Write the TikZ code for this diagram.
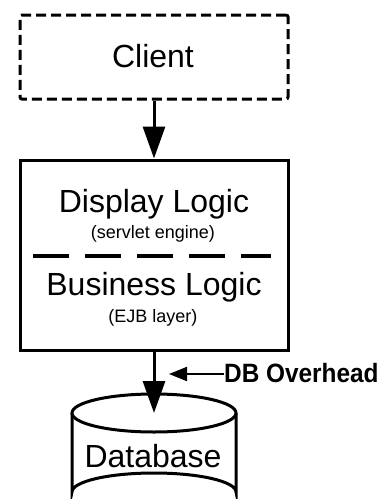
\documentclass[tikz,border=0pt]{standalone}
\usepackage{fontspec}
\setmainfont{Liberation Sans}
\usetikzlibrary{arrows.meta}
\begin{document}
\begin{tikzpicture}[x=1pt,y=-1pt,
  boxline/.style={line width=3pt},
  bigtxt/.style={anchor=base,inner sep=0pt,font=\fontsize{32}{36}\selectfont},
  smalltxt/.style={anchor=base,inner sep=0pt,font=\fontsize{18}{20}\selectfont},
  flow/.style={line width=3pt,-{Triangle[length=32pt,width=22pt]}},
  note/.style={line width=2pt,-{Triangle[length=18pt,width=14pt]}}]
\useasboundingbox (0,0) rectangle (385,499);
\begin{scope}
\clip (0,0) rectangle (385,499);
% client
\node[boxline,draw,dash pattern=on 10pt off 5pt,rounded corners=2pt,minimum width=268pt,minimum height=84pt,inner sep=0pt] (client) at (154,57) {};
\node[bigtxt] (clienttxt) at (153,67) {Client};
% main box
\node[boxline,draw,minimum width=268pt,minimum height=190pt,inner sep=0pt] (main) at (154,255) {};
\node[bigtxt] (disp) at (154,212) {Display Logic};
\node[smalltxt] (serv) at (153,238) {(servlet engine)};
\coordinate (sepl) at (33,256);
\coordinate (sepr) at (271,256);
\draw[line width=3.5pt,dash pattern=on 36pt off 16pt] (sepl) -- (sepr);
\node[bigtxt] (bus) at (154,295) {Business Logic};
\node[smalltxt] (ejb) at (153,322) {(EJB layer)};
% database cylinder
\coordinate (dbc) at (154,413);
\draw[boxline] (72,413) -- (72,492) arc[start angle=180,end angle=360,x radius=82,y radius=19] -- (236,413);
\draw[boxline,fill=white] (dbc) ellipse[x radius=82,y radius=19];
\node[bigtxt] (dbtxt) at (153,467) {Database};
% connectors
\draw[flow] (client.south) -- (main.north);
\draw[flow] (main.south) -- (dbc);
% DB overhead
\node[anchor=base west,inner sep=0pt,font=\fontsize{26.5}{30}\bfseries\selectfont] (ovh) at (224,382) {\scalebox{0.92}[1]{DB Overhead}};
\coordinate (ovhtip) at (169,374);
\draw[note] (ovh.west |- ovhtip) -- (ovhtip);
\end{scope}
\end{tikzpicture}
\end{document}
